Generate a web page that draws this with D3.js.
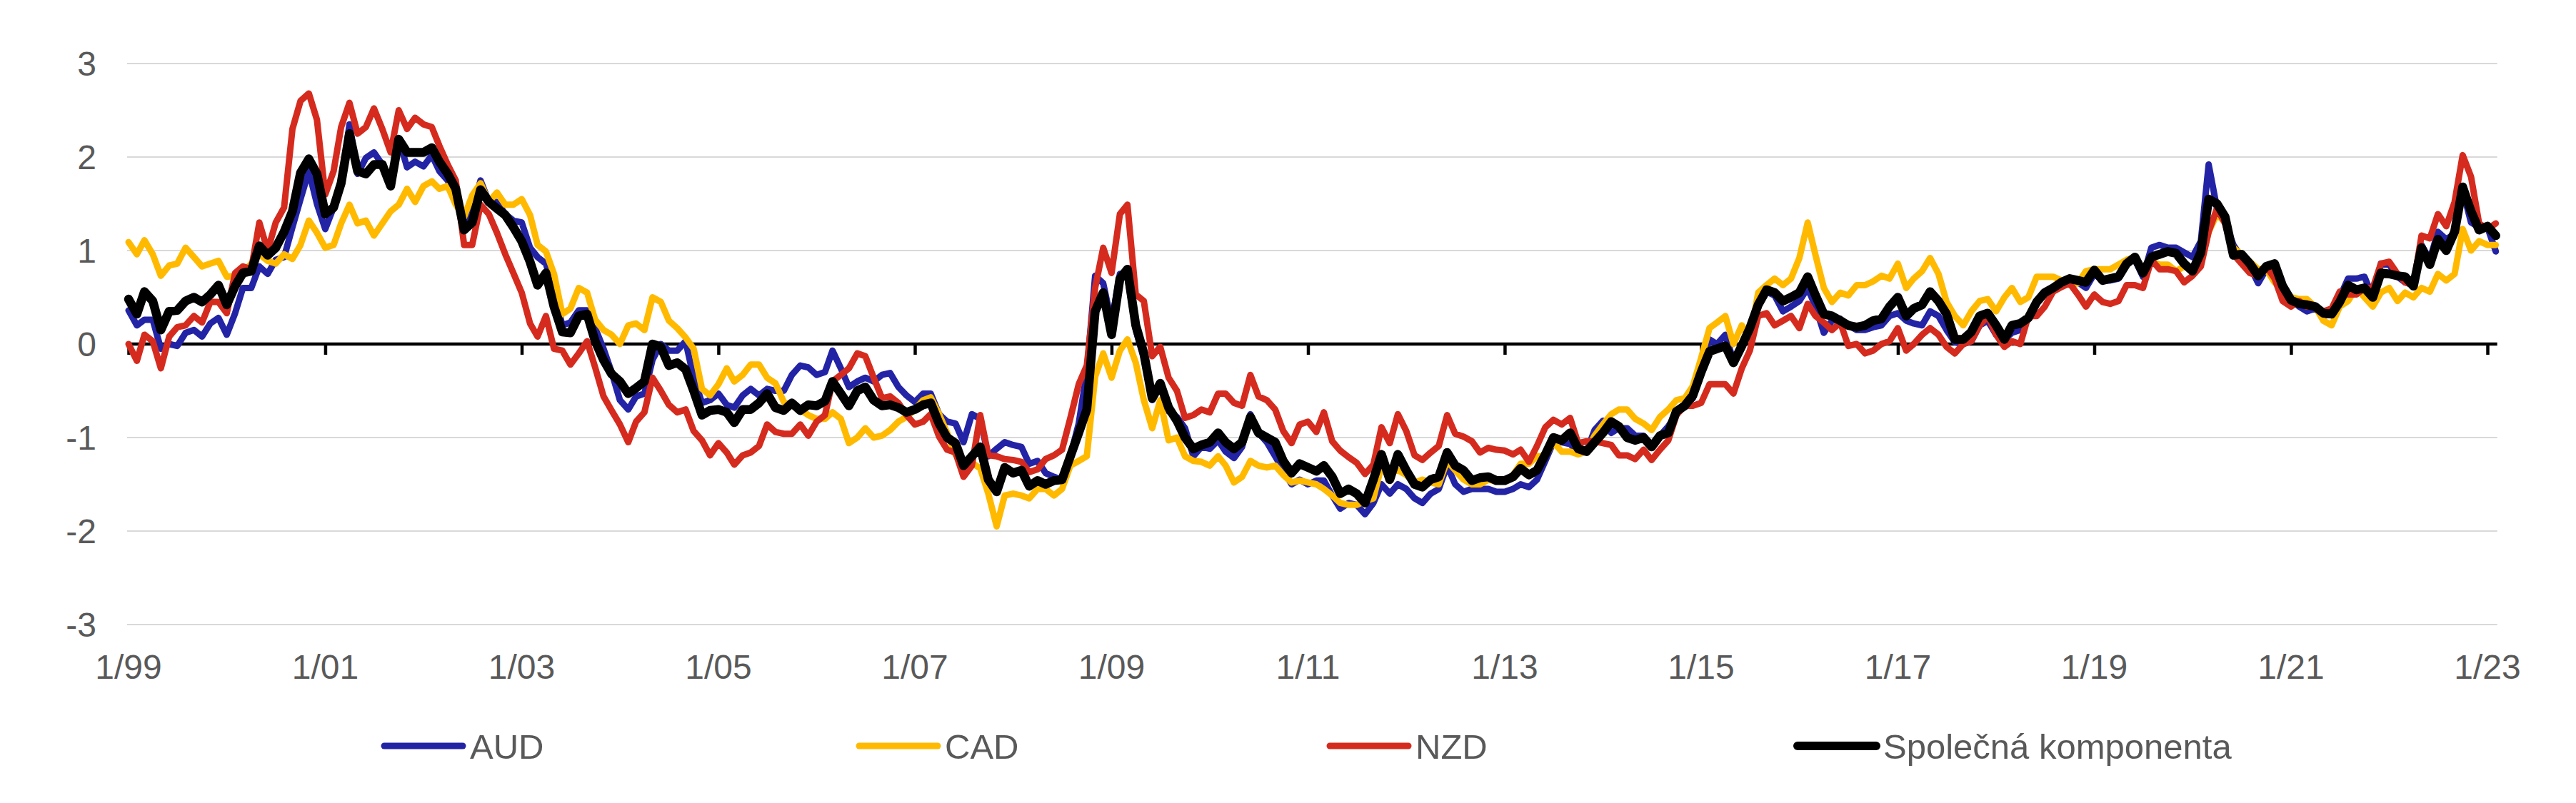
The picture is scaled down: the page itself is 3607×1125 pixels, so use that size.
<!DOCTYPE html>
<html><head><meta charset="utf-8">
<script src="https://cdn.jsdelivr.net/npm/d3@7"></script>
<style>
html,body{margin:0;padding:0;background:#fff;}
svg{display:block;}
text{font-family:"Liberation Sans",Arial,Helvetica,sans-serif;}
</style>
</head><body>
<svg id="chart" width="3607" height="1125"></svg>
<script>
// ---------------- DATA ----------------
const firstMonth = "1999-01";
const lastMonth = "2023-02";
const xTickLabels = ["1/99","1/01","1/03","1/05","1/07","1/09","1/11","1/13","1/15","1/17","1/19","1/21","1/23"];
const yTickValues = [-3, -2, -1, 0, 1, 2, 3];
const seriesNames = ["AUD", "CAD", "NZD", "Společná komponenta"];

const aud = [
  0.36,0.2,0.26,0.26,-0.05,0.0,-0.02,0.12,0.15,0.08,0.22,0.28,
  0.1,0.33,0.6,0.6,0.83,0.75,0.9,0.93,1.25,1.55,1.85,1.5,
  1.23,1.46,1.69,2.35,1.82,1.99,2.05,1.92,1.72,2.2,1.89,1.95,
  1.9,2.02,1.85,1.75,1.59,1.32,1.42,1.75,1.52,1.52,1.39,1.32,
  1.3,1.03,0.93,0.86,0.56,0.2,0.23,0.36,0.36,0.17,-0.05,-0.3,
  -0.6,-0.7,-0.56,-0.53,-0.17,0.0,-0.07,-0.07,0.03,-0.36,-0.63,-0.6,
  -0.53,-0.65,-0.68,-0.55,-0.48,-0.55,-0.48,-0.5,-0.5,-0.33,-0.23,-0.25,
  -0.33,-0.3,-0.07,-0.26,-0.46,-0.4,-0.36,-0.4,-0.33,-0.31,-0.46,-0.55,
  -0.62,-0.53,-0.53,-0.75,-0.83,-0.85,-1.05,-0.75,-0.8,-1.2,-1.12,-1.05,
  -1.08,-1.1,-1.28,-1.25,-1.38,-1.42,-1.45,-1.2,-0.85,-0.3,0.73,0.65,
  0.23,0.75,0.72,0.15,-0.15,-0.6,-0.42,-0.72,-0.78,-0.9,-1.2,-1.1,
  -1.12,-1.03,-1.15,-1.22,-1.1,-0.75,-0.95,-1.05,-1.2,-1.35,-1.5,-1.45,
  -1.5,-1.46,-1.46,-1.62,-1.76,-1.7,-1.72,-1.82,-1.7,-1.5,-1.6,-1.5,
  -1.55,-1.65,-1.7,-1.6,-1.55,-1.3,-1.5,-1.58,-1.55,-1.55,-1.55,-1.58,
  -1.58,-1.55,-1.5,-1.53,-1.45,-1.25,-1.05,-1.05,-1.07,-1.15,-1.15,-0.92,
  -0.82,-0.95,-0.9,-0.9,-0.98,-0.98,-1.08,-0.98,-0.88,-0.75,-0.66,-0.58,
  -0.25,0.05,0.0,0.1,-0.18,0.0,0.15,0.4,0.56,0.52,0.35,0.4,
  0.46,0.6,0.4,0.12,0.25,0.27,0.2,0.15,0.15,0.18,0.2,0.3,
  0.33,0.25,0.22,0.2,0.35,0.3,0.15,0.02,0.0,0.03,0.2,0.25,
  0.1,0.05,0.12,0.15,0.28,0.45,0.55,0.6,0.63,0.7,0.66,0.6,
  0.75,0.68,0.68,0.7,0.88,0.9,0.72,1.03,1.06,1.03,1.03,0.98,
  0.93,1.1,1.92,1.45,1.3,1.06,0.93,0.83,0.65,0.8,0.75,0.55,
  0.47,0.4,0.35,0.38,0.3,0.32,0.5,0.7,0.7,0.72,0.5,0.86,
  0.85,0.72,0.66,0.63,1.06,0.9,1.2,1.12,1.18,1.65,1.3,1.25,
  1.25,0.99
];

const cad = [
  1.09,0.96,1.11,0.96,0.73,0.84,0.86,1.03,0.93,0.83,0.86,0.89,
  0.72,0.73,0.76,0.86,0.96,0.89,0.86,0.96,0.91,1.06,1.32,1.19,
  1.03,1.06,1.29,1.49,1.29,1.32,1.16,1.29,1.42,1.49,1.66,1.52,
  1.69,1.74,1.66,1.69,1.49,1.36,1.59,1.72,1.52,1.62,1.49,1.49,
  1.55,1.38,1.06,0.99,0.75,0.32,0.38,0.6,0.55,0.26,0.15,0.1,
  0.0,0.2,0.22,0.15,0.5,0.45,0.25,0.17,0.07,-0.05,-0.48,-0.55,
  -0.43,-0.26,-0.4,-0.33,-0.22,-0.22,-0.36,-0.42,-0.62,-0.66,-0.7,-0.76,
  -0.8,-0.8,-0.73,-0.8,-1.06,-1.0,-0.9,-1.0,-0.98,-0.92,-0.83,-0.78,
  -0.7,-0.6,-0.57,-0.75,-0.95,-1.18,-1.28,-1.27,-1.33,-1.6,-1.95,-1.62,
  -1.6,-1.62,-1.65,-1.55,-1.55,-1.62,-1.55,-1.3,-1.25,-1.2,-0.35,-0.1,
  -0.36,-0.07,0.05,-0.2,-0.6,-0.9,-0.6,-1.03,-1.0,-1.2,-1.25,-1.26,
  -1.3,-1.2,-1.3,-1.48,-1.42,-1.25,-1.3,-1.32,-1.3,-1.4,-1.48,-1.46,
  -1.48,-1.5,-1.55,-1.62,-1.7,-1.72,-1.72,-1.68,-1.65,-1.3,-1.38,-1.35,
  -1.4,-1.48,-1.45,-1.48,-1.5,-1.25,-1.35,-1.45,-1.5,-1.5,-1.45,-1.47,
  -1.47,-1.4,-1.28,-1.28,-1.2,-1.2,-1.05,-1.15,-1.15,-1.18,-1.15,-0.98,
  -0.86,-0.75,-0.7,-0.7,-0.8,-0.85,-0.92,-0.78,-0.7,-0.6,-0.58,-0.45,
  -0.15,0.17,0.23,0.3,0.0,0.2,0.05,0.55,0.63,0.7,0.63,0.7,
  0.92,1.3,0.95,0.6,0.45,0.55,0.52,0.63,0.63,0.67,0.73,0.7,
  0.86,0.6,0.7,0.78,0.92,0.75,0.45,0.3,0.2,0.35,0.46,0.48,
  0.35,0.5,0.6,0.45,0.5,0.72,0.72,0.72,0.68,0.63,0.65,0.78,
  0.8,0.8,0.8,0.85,0.9,0.93,0.8,0.88,0.85,0.85,0.78,0.83,
  0.8,0.86,1.2,1.39,1.3,1.03,0.96,0.88,0.8,0.8,0.66,0.58,
  0.5,0.48,0.48,0.4,0.25,0.2,0.4,0.46,0.6,0.5,0.4,0.55,
  0.6,0.46,0.55,0.5,0.6,0.56,0.75,0.68,0.75,1.23,1.0,1.1,
  1.06,1.06
];

const nzd = [
  0.0,-0.18,0.1,0.03,-0.26,0.08,0.18,0.2,0.3,0.23,0.45,0.45,
  0.33,0.76,0.83,0.8,1.3,1.0,1.3,1.46,2.3,2.6,2.68,2.4,
  1.6,1.85,2.32,2.58,2.25,2.32,2.52,2.3,2.05,2.5,2.3,2.42,
  2.35,2.32,2.12,1.92,1.75,1.06,1.06,1.49,1.39,1.19,0.96,0.76,
  0.55,0.22,0.08,0.3,-0.05,-0.07,-0.22,-0.1,0.03,-0.25,-0.56,-0.71,
  -0.86,-1.05,-0.83,-0.73,-0.36,-0.5,-0.65,-0.73,-0.7,-0.93,-1.03,-1.19,
  -1.06,-1.16,-1.29,-1.19,-1.16,-1.09,-0.86,-0.94,-0.96,-0.96,-0.86,-0.98,
  -0.83,-0.76,-0.4,-0.33,-0.26,-0.1,-0.13,-0.36,-0.58,-0.56,-0.63,-0.76,
  -0.86,-0.83,-0.75,-0.99,-1.13,-1.16,-1.42,-1.3,-0.76,-1.19,-1.2,-1.23,
  -1.24,-1.26,-1.37,-1.34,-1.23,-1.19,-1.13,-0.79,-0.43,-0.23,0.6,1.03,
  0.76,1.39,1.49,0.53,0.46,-0.13,-0.03,-0.36,-0.5,-0.79,-0.76,-0.7,
  -0.73,-0.53,-0.53,-0.63,-0.66,-0.33,-0.56,-0.6,-0.7,-0.93,-1.06,-0.86,
  -0.83,-0.94,-0.73,-1.04,-1.14,-1.21,-1.27,-1.39,-1.29,-0.89,-1.06,-0.75,
  -0.93,-1.19,-1.24,-1.16,-1.09,-0.76,-0.96,-0.99,-1.04,-1.16,-1.11,-1.13,
  -1.14,-1.18,-1.13,-1.26,-1.09,-0.89,-0.81,-0.86,-0.79,-1.06,-1.04,-1.04,
  -1.06,-1.08,-1.19,-1.19,-1.23,-1.13,-1.24,-1.13,-1.03,-0.76,-0.66,-0.66,
  -0.63,-0.43,-0.43,-0.43,-0.53,-0.26,-0.07,0.3,0.33,0.2,0.25,0.3,
  0.17,0.43,0.3,0.23,0.15,0.23,-0.02,0.0,-0.1,-0.07,0.0,0.03,
  0.17,-0.07,0.0,0.1,0.17,0.1,-0.03,-0.1,0.0,0.03,0.2,0.3,
  0.1,-0.03,0.03,0.0,0.3,0.3,0.4,0.56,0.61,0.65,0.53,0.4,
  0.53,0.45,0.43,0.46,0.63,0.63,0.6,0.9,0.8,0.8,0.78,0.66,
  0.73,0.83,1.2,1.45,1.29,0.96,0.86,0.76,0.73,0.83,0.7,0.46,
  0.4,0.46,0.4,0.41,0.35,0.38,0.56,0.53,0.53,0.6,0.6,0.86,
  0.88,0.75,0.66,0.63,1.16,1.13,1.39,1.26,1.52,2.02,1.79,1.29,
  1.23,1.29
];

const common = [
  0.48,0.32,0.56,0.46,0.15,0.35,0.36,0.46,0.5,0.45,0.53,0.63,
  0.42,0.62,0.76,0.78,1.05,0.95,1.03,1.2,1.42,1.83,1.98,1.82,
  1.39,1.46,1.72,2.25,1.85,1.82,1.92,1.92,1.69,2.19,2.05,2.05,
  2.05,2.1,1.95,1.82,1.66,1.22,1.3,1.65,1.52,1.45,1.38,1.25,
  1.1,0.88,0.63,0.76,0.4,0.13,0.12,0.3,0.32,0.03,-0.17,-0.32,
  -0.4,-0.53,-0.47,-0.4,0.0,-0.03,-0.23,-0.2,-0.27,-0.5,-0.76,-0.71,
  -0.7,-0.73,-0.84,-0.7,-0.7,-0.63,-0.53,-0.68,-0.71,-0.63,-0.71,-0.65,
  -0.66,-0.61,-0.4,-0.53,-0.66,-0.5,-0.46,-0.6,-0.66,-0.65,-0.68,-0.73,
  -0.7,-0.65,-0.63,-0.85,-1.0,-1.06,-1.3,-1.2,-1.1,-1.45,-1.58,-1.32,
  -1.38,-1.35,-1.52,-1.46,-1.5,-1.46,-1.45,-1.2,-0.95,-0.7,0.35,0.55,
  0.1,0.7,0.8,0.2,-0.1,-0.58,-0.42,-0.68,-0.82,-1.0,-1.12,-1.08,
  -1.05,-0.95,-1.05,-1.12,-1.05,-0.78,-0.95,-1.0,-1.05,-1.25,-1.38,-1.28,
  -1.32,-1.36,-1.3,-1.42,-1.6,-1.55,-1.6,-1.7,-1.45,-1.18,-1.45,-1.18,
  -1.35,-1.5,-1.53,-1.45,-1.42,-1.16,-1.3,-1.35,-1.46,-1.43,-1.42,-1.46,
  -1.46,-1.42,-1.33,-1.4,-1.35,-1.18,-1.0,-1.03,-0.95,-1.12,-1.15,-1.05,
  -0.95,-0.83,-0.88,-1.0,-1.03,-1.0,-1.1,-0.98,-0.95,-0.72,-0.66,-0.55,
  -0.3,-0.08,-0.05,-0.02,-0.2,-0.02,0.17,0.42,0.58,0.55,0.46,0.5,
  0.55,0.72,0.52,0.32,0.3,0.25,0.2,0.18,0.2,0.25,0.27,0.4,
  0.5,0.3,0.38,0.42,0.56,0.46,0.32,0.05,0.05,0.13,0.3,0.33,
  0.2,0.05,0.2,0.22,0.28,0.45,0.55,0.6,0.66,0.7,0.68,0.66,
  0.79,0.68,0.7,0.72,0.86,0.93,0.76,0.93,0.96,0.99,0.97,0.86,
  0.78,0.98,1.55,1.5,1.36,0.95,0.96,0.86,0.73,0.83,0.86,0.62,
  0.47,0.43,0.42,0.4,0.33,0.32,0.45,0.63,0.58,0.6,0.5,0.76,
  0.75,0.73,0.72,0.62,1.03,0.85,1.12,1.0,1.2,1.68,1.42,1.22,
  1.26,1.16
];

// ---------------- STYLE / LAYOUT ----------------
const W = 3607, H = 1125;
const colors = ["#2323A6", "#FFBA00", "#D52B1E", "#000000"];
const widths = [9, 9, 9, 12.5];
const textColor = "#595959";
const fontSize = 48;

const parseMonth = d3.timeParse("%Y-%m");
const months = d3.timeMonth.range(parseMonth(firstMonth), d3.timeMonth.offset(parseMonth(lastMonth), 1));
const tickDates = xTickLabels.map(s => { const [m, y] = s.split("/"); return new Date(1999 + ((+y - 99 + 100) % 100), +m - 1, 1); });

const x = d3.scaleTime()
  .domain([tickDates[0], tickDates[tickDates.length - 1]])
  .range([180, 3483]);
const y = d3.scaleLinear().domain([-3, 3]).range([875, 89]);

const svg = d3.select("#chart");
svg.append("rect").attr("width", W).attr("height", H).attr("fill", "#fff");

const xStart = x(months[0]) - 2;
const xEnd = x(months[months.length - 1]) + 2;

// gridlines
svg.append("g").selectAll("line")
  .data(yTickValues.filter(v => v !== 0))
  .join("line")
  .attr("x1", xStart).attr("x2", xEnd)
  .attr("y1", d => y(d)).attr("y2", d => y(d))
  .attr("stroke", "#d9d9d9").attr("stroke-width", 2);

// y labels
svg.append("g").selectAll("text")
  .data(yTickValues)
  .join("text")
  .attr("x", 135).attr("y", d => y(d)).attr("dy", "0.36em")
  .attr("text-anchor", "end")
  .attr("font-size", fontSize).attr("fill", textColor)
  .text(d => d);

// zero axis with ticks
const xAxis = d3.axisBottom(x)
  .tickValues(tickDates)
  .tickFormat((d, i) => xTickLabels[i])
  .tickSize(15)
  .tickPadding(0);
const axisG = svg.append("g").attr("transform", `translate(0,${y(0)})`).call(xAxis);
axisG.select(".domain").attr("d", `M${xStart},0H${xEnd}`).attr("stroke", "#000").attr("stroke-width", 4.5);
axisG.selectAll(".tick line").attr("stroke", "#000").attr("stroke-width", 4.5);
axisG.selectAll(".tick text").remove();

// x labels at bottom
svg.append("g").selectAll("text")
  .data(tickDates)
  .join("text")
  .attr("x", d => x(d)).attr("y", 951)
  .attr("text-anchor", "middle")
  .attr("font-size", fontSize).attr("fill", textColor)
  .text((d, i) => xTickLabels[i]);

// series
const allSeries = [aud, cad, nzd, common];
const line = d3.line()
  .x((d, i) => x(months[i]))
  .y(d => y(d))
  .curve(d3.curveLinear);

svg.append("g").selectAll("path")
  .data(allSeries)
  .join("path")
  .attr("d", d => line(d))
  .attr("fill", "none")
  .attr("stroke", (d, i) => colors[i])
  .attr("stroke-width", (d, i) => widths[i])
  .attr("stroke-linejoin", "round")
  .attr("stroke-linecap", "round");

// legend
const legendX = [534, 1199, 1858, 2513];
const legendY = 1045;
const lg = svg.append("g").selectAll("g")
  .data(seriesNames)
  .join("g")
  .attr("transform", (d, i) => `translate(${legendX[i]},${legendY})`);
lg.append("line")
  .attr("x1", 4).attr("x2", 114).attr("y1", 0).attr("y2", 0)
  .attr("stroke", (d, i) => colors[i])
  .attr("stroke-width", (d, i) => i === 3 ? 12 : 9)
  .attr("stroke-linecap", "round");
lg.append("text")
  .attr("x", 124).attr("y", 0).attr("dy", "0.36em")
  .attr("font-size", 49).attr("fill", textColor)
  .text(d => d);
</script>
</body></html>
